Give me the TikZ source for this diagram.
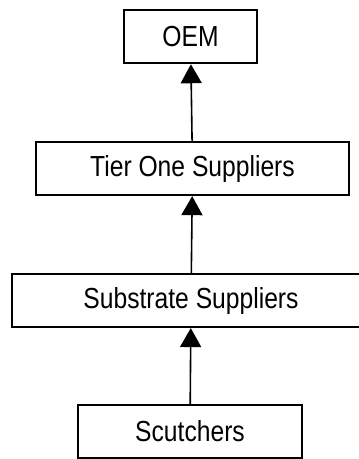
\documentclass[tikz,border=0pt]{standalone}
\usepackage{fontspec}
\setmainfont{Liberation Sans}[FakeStretch=0.85]
\usepackage{tikz}
\usetikzlibrary{arrows.meta,positioning}
\tikzset{
  chainbox/.style={rectangle,draw=black,line width=1.9pt,fill=white,minimum height=53pt,inner sep=0pt,align=center,font=\fontsize{29}{30}\selectfont},
  arrow/.style={-{Triangle[length=19pt,width=21pt]},line width=1.6pt,color=black},
}
\begin{document}
\begin{tikzpicture}[node distance=77pt]
  \useasboundingbox (0pt,0pt) rectangle (359pt,-459pt);
  % ── Supply chain ──
  \node[chainbox, minimum width=224pt] (scutch) at (190pt,-431.5pt) {Scutchers};
  \node[chainbox, minimum width=358pt, above=76pt of scutch, xshift=1pt] (substrate) {Substrate Suppliers};
  \node[chainbox, minimum width=313pt, above=of substrate, xshift=1.5pt] (tierone) {Tier One Suppliers};
  \node[chainbox, minimum width=133pt, above=of tierone, xshift=-2pt] (oem) {OEM};

  % ── Arrows ──
  \draw[arrow] (scutch) -- (substrate);
  \draw[arrow] (substrate) -- (tierone);
  \draw[arrow] (tierone) -- (oem);
\end{tikzpicture}
\end{document}
